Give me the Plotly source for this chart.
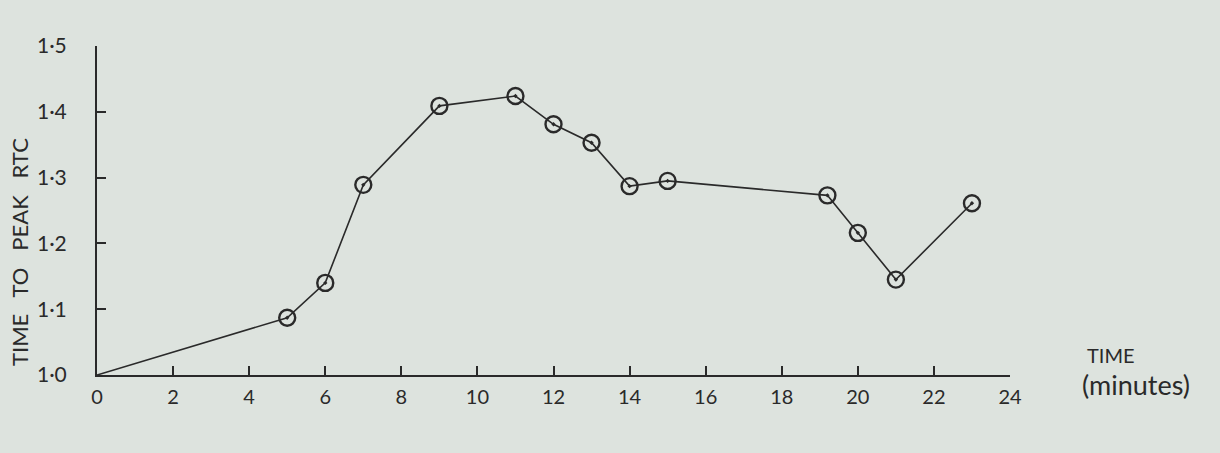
import plotly.graph_objects as go

# Data
time_min = [0, 5, 6, 7, 9, 11, 12, 13, 14, 15, 19.2, 20, 21, 23]
time_to_peak = [1.00, 1.087, 1.140, 1.289, 1.409, 1.424, 1.381, 1.353, 1.287, 1.295, 1.273, 1.216, 1.145, 1.261]

x_ticks = list(range(0, 25, 2))
x_tick_text = [str(v) for v in x_ticks]
y_ticks = [1.0, 1.1, 1.2, 1.3, 1.4, 1.5]
y_tick_text = ["1·0", "1·1", "1·2", "1·3", "1·4", "1·5"]

ink = "#2a2a2a"
bg = "#dde3de"
font_family = "Lato, 'Open Sans', sans-serif"

fig = go.Figure()
fig.add_trace(go.Scatter(
    x=time_min, y=time_to_peak, mode="lines",
    line=dict(color=ink, width=1.6), hoverinfo="skip", showlegend=False,
))
fig.add_trace(go.Scatter(
    x=time_min[1:], y=time_to_peak[1:], mode="markers",
    marker=dict(symbol="circle-open-dot", size=16, color=ink,
                line=dict(color=ink, width=2.4)),
    cliponaxis=False, showlegend=False,
))

fig.update_layout(
    width=1220, height=453,
    paper_bgcolor=bg, plot_bgcolor=bg,
    margin=dict(l=97, r=210, t=46, b=78),
    font=dict(family=font_family, color=ink),
    xaxis=dict(
        range=[0, 24], tickvals=x_ticks, ticktext=x_tick_text,
        showgrid=False, zeroline=False, showline=True,
        linecolor=ink, linewidth=2, ticks="inside", ticklen=9,
        tickwidth=1.6, tickcolor=ink, tickfont=dict(size=20, color=ink),
        ticklabelstandoff=3,
    ),
    yaxis=dict(
        range=[1.0, 1.5], tickvals=y_ticks, ticktext=y_tick_text,
        showgrid=False, zeroline=False, showline=True,
        linecolor=ink, linewidth=2, ticks="inside", ticklen=9,
        tickwidth=1.6, tickcolor=ink, tickfont=dict(size=21, color=ink),
        ticklabelstandoff=24,
    ),
)

fig.add_annotation(text="TIME   TO   PEAK   RTC", xref="paper", yref="paper",
                   x=-0.0843, y=0.374, textangle=-90,
                   xanchor="center", yanchor="middle", showarrow=False,
                   font=dict(size=22, color=ink))
fig.add_annotation(text="TIME", xref="paper", yref="paper", x=1.082, y=0.061,
                   xanchor="left", yanchor="middle", showarrow=False,
                   font=dict(size=20, color=ink))
fig.add_annotation(text="(minutes)", xref="paper", yref="paper", x=1.077, y=-0.03,
                   xanchor="left", yanchor="middle", showarrow=False,
                   font=dict(size=27, color=ink))

fig.write_html("out.html", config={"displayModeBar": False},
               post_script="document.body.style.margin='0px';")
